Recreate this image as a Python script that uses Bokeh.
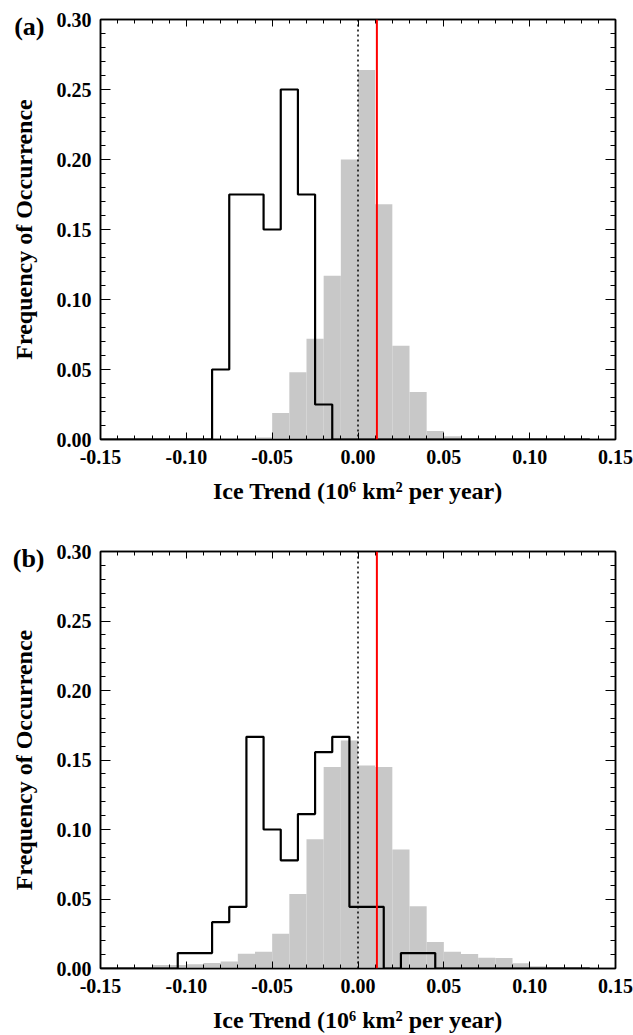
from bokeh.plotting import figure
from bokeh.layouts import column
from bokeh.models import (LinearAxis, SingleIntervalTicker, FixedTicker, NumeralTickFormatter,
                          CustomJSTickFormatter, Span, Range1d)
from bokeh.embed import file_html
from bokeh.resources import INLINE

FONT = "Liberation Serif"
GRAY = "#c8c8c8"
BIN = 0.01

# Panel (a): shaded histogram (left bin edges, frequency)
gray_a_left = [-0.06, -0.05, -0.04, -0.03, -0.02, -0.01, 0.00, 0.01, 0.02, 0.03, 0.04, 0.05]
gray_a_freq = [0.0015, 0.019, 0.048, 0.072, 0.117, 0.200, 0.264, 0.168, 0.067, 0.034, 0.006, 0.0024]

# Panel (a): outlined histogram (bin centres, frequency)
black_a_center = [-0.15, -0.14, -0.13, -0.12, -0.11, -0.10, -0.09, -0.08, -0.07, -0.06, -0.05,
                  -0.04, -0.03, -0.02, -0.01, 0.00, 0.01, 0.02, 0.03, 0.04, 0.05,
                  0.06, 0.07, 0.08, 0.09, 0.10, 0.11, 0.12, 0.13]
black_a_freq = [0, 0, 0, 0, 0, 0, 0, 0.05, 0.175, 0.175, 0.15,
                0.25, 0.175, 0.025, 0, 0, 0, 0, 0, 0, 0,
                0, 0, 0, 0, 0, 0, 0, 0]

# Panel (b): shaded histogram
gray_b_left = [-0.14, -0.13, -0.12, -0.11, -0.10, -0.09, -0.08, -0.07, -0.06, -0.05,
               -0.04, -0.03, -0.02, -0.01, 0.00, 0.01, 0.02, 0.03, 0.04, 0.05,
               0.06, 0.07, 0.08, 0.09, 0.10, 0.11, 0.12]
gray_b_freq = [0.0005, 0.001, 0.0025, 0.0025, 0.003, 0.004, 0.005, 0.0107, 0.012, 0.025,
               0.0536, 0.093, 0.145, 0.164, 0.146, 0.145, 0.0857, 0.0448, 0.019, 0.012,
               0.0105, 0.0078, 0.0075, 0.0038, 0.0017, 0.0008, 0.0003]

# Panel (b): outlined histogram
black_b_center = black_a_center
black_b_freq = [0, 0, 0, 0, 0, 0.0111, 0.0111, 0.0333, 0.0444, 0.1667, 0.10,
                0.0778, 0.1111, 0.1556, 0.1667, 0.0444, 0.0444, 0, 0.0111, 0.0111, 0,
                0, 0, 0, 0, 0, 0, 0, 0]

# Reference lines: zero trend and observed trend
zero_trend = 0.0
observed_trend = 0.011

X_TITLE = "Ice Trend (10\u2076 km\u00b2 per year)"
Y_TITLE = "Frequency of Occurrence"


def style_axis(ax, tick_in, minor_in):
    ax.major_tick_in = tick_in
    ax.major_tick_out = 0
    ax.minor_tick_in = minor_in
    ax.minor_tick_out = 0
    ax.major_tick_line_width = 1
    ax.minor_tick_line_width = 1
    ax.axis_line_width = 1.5
    ax.major_label_text_font = FONT
    ax.major_label_text_font_style = "bold"
    ax.major_label_text_font_size = "20px"
    ax.major_label_text_color = "black"
    ax.axis_label_text_font = FONT
    ax.axis_label_text_font_style = "bold"
    ax.axis_label_text_font_size = "24px"
    ax.axis_label_text_color = "black"


def panel(tag, g_left, g_freq, b_center, b_freq, height, top, bottom):
    p = figure(width=633, height=height,
               x_range=Range1d(-0.150000001, 0.150000001),
               y_range=Range1d(0, 0.300000001),
               output_backend="svg", toolbar_location=None,
               min_border_left=100, min_border_right=18,
               min_border_top=top, min_border_bottom=bottom)
    p.grid.visible = False
    p.outline_line_color = "black"
    p.outline_line_width = 1.5
    p.background_fill_color = "white"
    p.border_fill_color = "white"

    xt = SingleIntervalTicker(interval=0.05, num_minor_ticks=5)
    yt = SingleIntervalTicker(interval=0.05, num_minor_ticks=5)

    p.quad(left=g_left, right=[v + BIN for v in g_left], bottom=0, top=g_freq,
           fill_color=GRAY, line_color=None)

    edges = [c - BIN / 2 for c in b_center] + [b_center[-1] + BIN / 2]
    levels = list(b_freq) + [b_freq[-1]]
    p.step(edges, levels, mode="after", line_color="black", line_width=2.2)

    p.add_layout(Span(location=zero_trend, dimension="height", line_color="black",
                      line_width=1.5, line_dash="2 3"))
    p.add_layout(Span(location=observed_trend, dimension="height", line_color="red",
                      line_width=2))

    xa = p.xaxis[0]
    xa.ticker = xt
    xa.formatter = NumeralTickFormatter(format="0.00")
    xa.axis_label = X_TITLE
    style_axis(xa, 7, 4)
    xa.major_label_standoff = 10
    xa.axis_label_standoff = 11

    ya = p.yaxis[0]
    ya.ticker = yt
    ya.formatter = NumeralTickFormatter(format="0.00")
    ya.axis_label = Y_TITLE
    style_axis(ya, 10, 5)
    ya.major_label_standoff = 9
    ya.axis_label_standoff = 17

    blank = CustomJSTickFormatter(code="return ''")
    top_ax = LinearAxis(ticker=xt, formatter=blank)
    style_axis(top_ax, 7, 4)
    top_ax.major_label_text_font_size = "0px"
    p.add_layout(top_ax, "above")
    right_ax = LinearAxis(ticker=yt, formatter=blank)
    style_axis(right_ax, 10, 5)
    right_ax.major_label_text_font_size = "0px"
    p.add_layout(right_ax, "right")

    # Panel tag, set beside the top of the value axis
    tag_ax = LinearAxis(ticker=FixedTicker(ticks=[0.295], minor_ticks=[]),
                        formatter=CustomJSTickFormatter(args=dict(tag=tag), code="return tag"))
    tag_ax.axis_line_color = None
    tag_ax.major_tick_line_color = None
    tag_ax.minor_tick_line_color = None
    tag_ax.major_tick_out = 0
    tag_ax.major_label_standoff = -37
    tag_ax.major_label_text_font = FONT
    tag_ax.major_label_text_font_style = "bold"
    tag_ax.major_label_text_font_size = "26px"
    tag_ax.major_label_text_color = "black"
    p.add_layout(tag_ax, "left")
    return p


pa = panel("(a)", gray_a_left, gray_a_freq, black_a_center, black_a_freq, 517, 19, 78)
pb = panel("(b)", gray_b_left, gray_b_freq, black_b_center, black_b_freq, 518, 34, 64)

layout = column(pa, pb)
open("out.html", "w").write(file_html(layout, INLINE))
